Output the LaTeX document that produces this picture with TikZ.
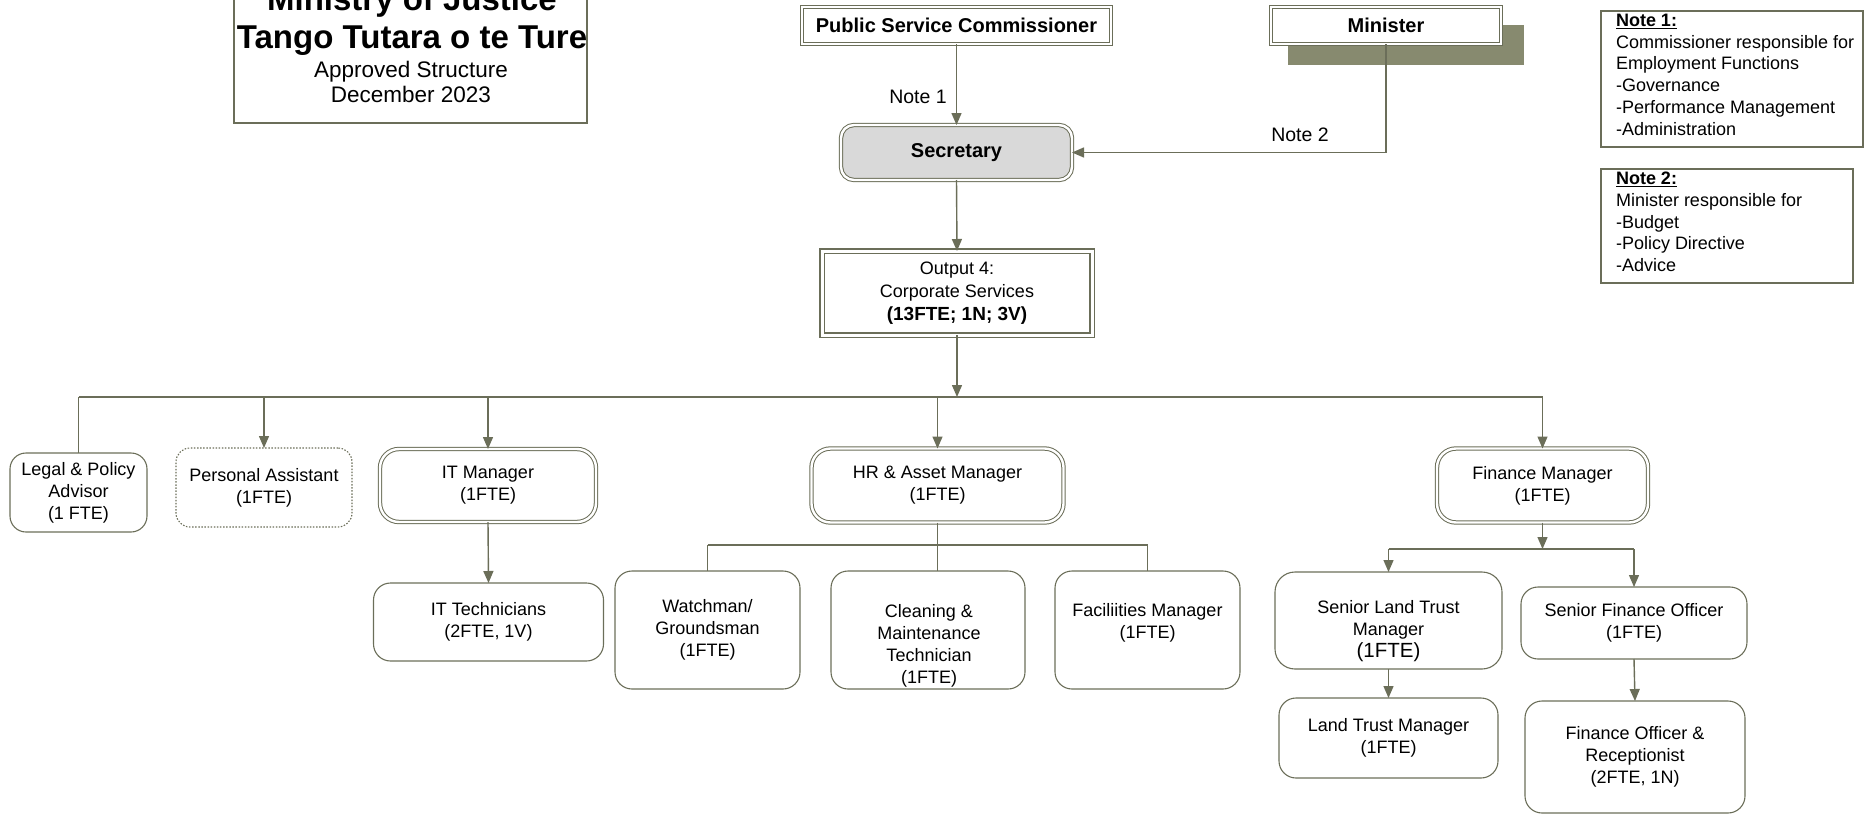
\documentclass[tikz,border=0pt]{standalone}
\usepackage{fontspec}
\setmainfont{Liberation Sans}
\usetikzlibrary{arrows.meta}
\definecolor{ln}{HTML}{6B6E59}
\definecolor{shadowc}{HTML}{878A6F}
\definecolor{secfill}{HTML}{D9D9D9}
\newcommand\fsz[2]{\fontsize{#1}{#2}\selectfont}
\begin{document}
\begin{tikzpicture}[x=1pt,y=-1pt,
  every node/.style={inner sep=0pt, outer sep=0pt, text=black},
  txt/.style={align=center, font=\fsz{18}{22}},
  box/.style={txt, draw=ln, line width=1.1pt, rounded corners=17pt},
  dbox/.style={box, double=white, double distance=2.4pt, line width=1pt, rounded corners=19pt},
  sqbox/.style={draw=ln, line width=1.1pt},
  sqd/.style={draw=ln, double=white, double distance=1.8pt, line width=1.1pt, fill=white,
    font=\bfseries\fsz{20}{24}},
  conn/.style={draw=ln, line width=1.4pt},
  arr/.style={conn, -{Triangle[length=12pt,width=10pt]}},
  notetxt/.style={align=left, font=\fsz{18}{21.8}, anchor=north west},
]
\clip (0,0) rectangle (1875,814);

% title block
\node[sqbox, minimum width=353, minimum height=183] (title) at (410.5,31.5) {};
\node[font=\bfseries\fsz{33}{38}, anchor=base] (t1) at (412,10) {Ministry of Justice};
\node[font=\bfseries\fsz{33}{38}, anchor=base] (t2) at (412,48) {Tango Tutara o te Ture};
\node[font=\fsz{22.5}{24}, anchor=base] (t3) at (411,77) {Approved Structure};
\node[font=\fsz{22.5}{24}, anchor=base] (t4) at (411,102) {December 2023};

% top of the hierarchy
\node[sqd, minimum width=309, minimum height=37] (psc) at (956.5,25.5) {Public Service Commissioner};
\fill[shadowc] (1288,25) rectangle (1524,65);
\node[sqd, minimum width=230, minimum height=37] (min) at (1386,25.5) {Minister};
\node[dbox, fill=secfill, rounded corners=13pt, font=\bfseries\fsz{20}{24},
  minimum width=231, minimum height=55] (sec) at (956.5,152.5) {Secretary};
\node[sqd, double distance=3pt, font=\fsz{18}{23}, align=center,
  minimum width=270, minimum height=84] (out) at (957,293)
  {Output 4:\\Corporate Services\\{\bfseries\fsz{19}{23}(13FTE; 1N; 3V)}};

\node[font=\fsz{19.5}{24}] (n1) at (918,97) {Note 1};
\node[font=\fsz{19.5}{24}] (n2) at (1300,135) {Note 2};

% notes
\node[sqbox, minimum width=262, minimum height=136] (note1) at (1732,79) {};
\node[notetxt] (note1t) at (1616,14) {\underline{\textbf{Note 1:}}\\Commissioner responsible for\\Employment Functions\\-Governance\\-Performance Management\\-Administration};
\node[sqbox, minimum width=252, minimum height=114] (note2) at (1727,226) {};
\node[notetxt] (note2t) at (1616,172) {\underline{\textbf{Note 2:}}\\Minister responsible for\\-Budget\\-Policy Directive\\-Advice};

% first row
\node[box, rounded corners=16pt, minimum width=137, minimum height=79] (legal) at (78.5,492.5) {Legal \& Policy\\Advisor\\(1 FTE)};
\node[box, dash pattern=on 1.5pt off 1.6pt, rounded corners=14pt, minimum width=176, minimum height=79] (pa) at (264,487.5) {Personal Assistant\\(1FTE)};
\node[dbox, minimum width=216, minimum height=73] (itm) at (488,485.5) {IT Manager\\(1FTE)};
\node[dbox, minimum width=252, minimum height=74] (hr) at (937.5,485.5) {HR \& Asset Manager\\(1FTE)};
\node[dbox, minimum width=211, minimum height=74] (fin) at (1542.5,485.5) {Finance Manager\\(1FTE)};

% second row
\node[box, minimum width=230, minimum height=78] (itt) at (488.5,622) {IT Technicians\\(2FTE, 1V)};
\node[box, minimum width=185, minimum height=118] (watch) at (707.5,630) {Watchman/\\Groundsman\\(1FTE)};
\node[box, minimum width=194, minimum height=118] (clean) at (928,630) {};
\node[txt] (cleant) at (929,646) {Cleaning \&\\Maintenance\\Technician\\(1FTE)};
\node[box, minimum width=185, minimum height=118] (fac) at (1147.5,630) {};
\node[txt] (fact) at (1147.5,623) {Faciliities Manager\\(1FTE)};
\node[box, rounded corners=20pt, minimum width=227, minimum height=97] (sltm) at (1388.5,620.5) {};
\node[txt] (sltmt) at (1388.5,631) {Senior Land Trust\\Manager\\{\fsz{20.5}{24}(1FTE)}};
\node[box, minimum width=226, minimum height=72] (sfo) at (1634,623) {Senior Finance Officer\\(1FTE)};

% third row
\node[box, minimum width=219, minimum height=80] (ltm) at (1388.5,738) {Land Trust Manager\\(1FTE)};
\node[box, minimum width=220, minimum height=112] (fo) at (1635,757) {Finance Officer \&\\Receptionist\\(2FTE, 1N)};

% connectors
\draw[arr] (psc.south) -- (sec.north);
\draw[arr] (min.south) |- (sec.east);
\draw[arr] (sec.south) -- (out.north);
\coordinate (bus) at (957,397);
\draw[arr] (out.south) -- (bus);
\draw[conn] (legal.north |- bus) -- (fin.north |- bus);
\draw[conn] (legal.north |- bus) -- (legal.north);
\draw[arr] (pa.north |- bus) -- (pa.north);
\draw[arr] (itm.north |- bus) -- (itm.north);
\draw[arr] (hr.north |- bus) -- (hr.north);
\draw[arr] (fin.north |- bus) -- (fin.north);

\draw[arr] (itm.south) -- (itt.north);

\coordinate (hrbus) at (937.5,545);
\draw[conn] (watch.north |- hrbus) -- (fac.north |- hrbus);
\draw[conn] (hr.south) -- (hr.south |- clean.north);
\draw[conn] (watch.north |- hrbus) -- (watch.north);
\draw[conn] (fac.north |- hrbus) -- (fac.north);

\coordinate (finbus) at (1542.5,549);
\draw[arr] (fin.south) -- (finbus);
\draw[conn] (sltm.north |- finbus) -- (sfo.north |- finbus);
\draw[arr] (sltm.north |- finbus) -- (sltm.north);
\draw[arr] (sfo.north |- finbus) -- (sfo.north);
\draw[arr] (sltm.south) -- (ltm.north);
\draw[arr] (sfo.south) -- (fo.north);
\end{tikzpicture}
\end{document}
